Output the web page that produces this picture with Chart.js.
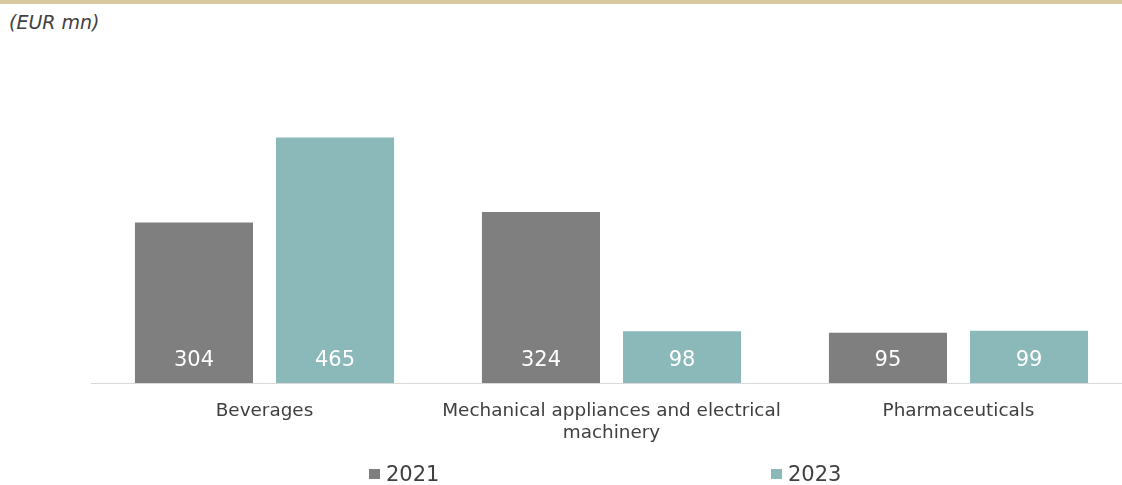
<!DOCTYPE html>
<html>
<head>
<meta charset="utf-8">
<script src="https://cdn.jsdelivr.net/npm/chart.js@4.4.0/dist/chart.umd.min.js"></script>
<style>
    html, body {margin: 0; padding: 0; background: #ffffff; overflow: hidden;}
    body {width: 1122px; height: 485px; position: relative; font-family: "DejaVu Sans", Verdana, sans-serif;}
    .topBand {position: absolute; left: 0; top: 0; width: 1122px; height: 4px; background: #d6c9a0;}
    .unit {position: absolute; left: 9px; top: 11px; font-size: 19px; font-style: italic; color: #404040;}
    .chartBox {position: absolute; left: 0; top: 0; width: 1140px; height: 485px;}
    .legendItem {position: absolute; top: 464px; font-size: 21px; line-height: 21px; color: #404040;}
    .legendBox {position: absolute; width: 11px; height: 10px; top: 469px;}
</style>
</head>
<body>
<div class="topBand"></div>
<div class="unit">(EUR mn)</div>
<div class="chartBox"><canvas id="chart" width="1140" height="485"></canvas></div>
<div class="legendBox" style="left:369px; background:#7f7f7f"></div>
<div class="legendItem" style="left:386px">2021</div>
<div class="legendBox" style="left:771px; background:#8bb9b9"></div>
<div class="legendItem" style="left:788px">2023</div>
<script>
    const categories = ["Beverages", ["Mechanical appliances and electrical", "machinery"], "Pharmaceuticals"];
    const values2021 = [304, 324, 95];
    const values2023 = [465, 98, 99];

    // white value labels sitting at the foot of each bar
    const barLabels = {
        id: "barLabels",
        afterDatasetsDraw(chart) {
            const ctx = chart.ctx;
            ctx.save();
            ctx.fillStyle = "#ffffff";
            ctx.font = "21px 'DejaVu Sans'";
            ctx.textAlign = "center";
            ctx.textBaseline = "middle";
            chart.data.datasets.forEach((ds, i) => {
                chart.getDatasetMeta(i).data.forEach((bar, j) => {
                    ctx.fillText(ds.data[j], bar.x, bar.base - 22);
                });
            });
            ctx.restore();
        }
    };

    const data = {
        labels: categories,
        datasets: [
            {
                label: "2021",
                data: values2021,
                backgroundColor: "#7f7f7f",
                categoryPercentage: 0.813,
                barPercentage: 0.837,
            },
            {
                label: "2023",
                data: values2023,
                backgroundColor: "#8bb9b9",
                categoryPercentage: 0.813,
                barPercentage: 0.837,
            },
        ],
    };

    const options = {
        responsive: false,
        animation: false,
        layout: {padding: {left: 91, right: 8, top: 119, bottom: 42}},
        plugins: {
            legend: {display: false},
            tooltip: {enabled: false},
        },
        scales: {
            x: {
                grid: {display: false, drawTicks: false},
                border: {display: true, color: "#d9d9d9", width: 1},
                ticks: {
                    color: "#404040",
                    font: {family: "DejaVu Sans", size: 18.4},
                    padding: 17,
                    maxRotation: 0,
                    autoSkip: false,
                },
                afterFit: (scale) => { scale.height = 60; },
            },
            y: {
                display: false,
                min: 0,
                max: 500,
            },
        },
    };

    new Chart(document.getElementById("chart").getContext("2d"), {
        type: "bar",
        data: data,
        options: options,
        plugins: [barLabels],
    });
</script>
</body>
</html>
